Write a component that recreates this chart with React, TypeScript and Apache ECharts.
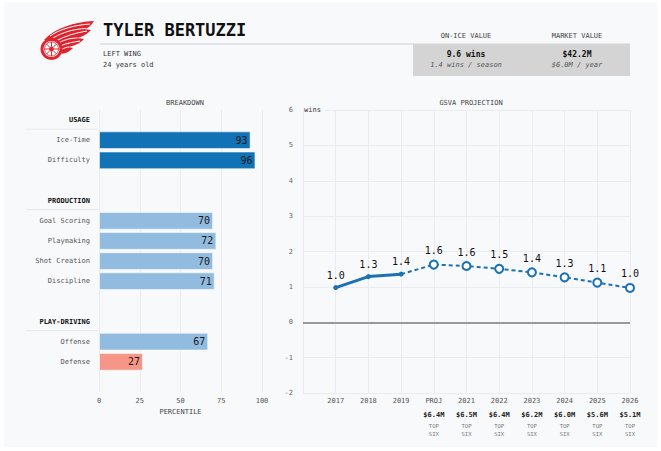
import React, { useEffect, useRef } from "react";
import * as echarts from "echarts";

// ---------- data ----------
const breakdownRows = [
  "USAGE", "Ice-Time", "Difficulty", "",
  "PRODUCTION", "Goal Scoring", "Playmaking", "Shot Creation", "Discipline", "",
  "PLAY-DRIVING", "Offense", "Defense", "",
];
const headerRows = ["USAGE", "PRODUCTION", "PLAY-DRIVING"];
const percentiles = [null, 93, 96, null, null, 70, 72, 70, 71, null, null, 67, 27, null];
const barColors = [
  null, "#1272b6", "#1272b6", null,
  null, "#91bbdf", "#91bbdf", "#91bbdf", "#91bbdf", null,
  null, "#91bbdf", "#f69689", null,
];
const seasons = ["2017", "2018", "2019", "PROJ", "2021", "2022", "2023", "2024", "2025", "2026"];
const pastGsva = [0.98, 1.29, 1.36];
const projGsva = [1.63, 1.59, 1.51, 1.41, 1.27, 1.12, 0.97];
const contracts = ["$6.4M", "$6.5M", "$6.4M", "$6.2M", "$6.0M", "$5.6M", "$5.1M"];
const roles = ["TOP SIX", "TOP SIX", "TOP SIX", "TOP SIX", "TOP SIX", "TOP SIX", "TOP SIX"];

const FONT = '"DejaVu Sans Mono", monospace';
const BLUE = "#1b72b2";
const RED = "#e0242f";

const wingPath =
  "M44 40 C55 28 74 22 94 21 C91 26 88 28 85 29 L91 30 C86 35 82 37 77 38 L84 39 C79 44 74 46 68 47 L73 48 C69 52 66 53 62 54 C61 47 54 41 44 40 Z";

export default function App() {
  const ref = useRef<HTMLDivElement>(null);

  useEffect(() => {
    if (!ref.current) return;
    try {
      echarts.graphic.registerShape("wing", echarts.graphic.extendPath(wingPath, {}) as any);
    } catch (e) {}
    const chart = echarts.init(ref.current, null, { renderer: "svg" });

    const barTop = 110;
    const barH = 282;
    const rowH = barH / breakdownRows.length;

    const xCats = ["", ...seasons];
    const solidData = xCats.map((_, i) => (i >= 1 && i <= pastGsva.length ? pastGsva[i - 1] : null));
    const projStart = pastGsva.length; // index of 2019 in xCats
    const dashedData: any[] = xCats.map((_, i) => {
      if (i === projStart) return { value: pastGsva[pastGsva.length - 1], symbol: "none", label: { show: false } };
      if (i > projStart) return projGsva[i - projStart - 1];
      return null;
    });

    const headerLines = breakdownRows
      .map((r, i) => (headerRows.includes(r) ? i : -1))
      .filter((i) => i >= 0)
      .map((i) => ({
        type: "line",
        silent: true,
        shape: { x1: 27, y1: barTop + (i + 1) * rowH - 1, x2: 98, y2: barTop + (i + 1) * rowH - 1 },
        style: { stroke: "#e6e8eb", lineWidth: 1 },
      }));

    const cx = 51.5, cy = 49;
    const spokes = [0, 45, 90, 135, 180, 225, 270, 315].map((a) => {
      const r = (a * Math.PI) / 180;
      return {
        type: "line",
        silent: true,
        shape: { x1: cx + Math.cos(r) * 2.5, y1: cy + Math.sin(r) * 2.5, x2: cx + Math.cos(r) * 7, y2: cy + Math.sin(r) * 7 },
        style: { stroke: RED, lineWidth: 1 },
      };
    });
    const stripes = [
      { x1: 50, y1: 36, cpx1: 60, cpy1: 29, cpx2: 75, cpy2: 25, x2: 90, y2: 24 },
      { x1: 53, y1: 38, cpx1: 63, cpy1: 32, cpx2: 74, cpy2: 29, x2: 86, y2: 28.5 },
      { x1: 56, y1: 41, cpx1: 65, cpy1: 36, cpx2: 75, cpy2: 33, x2: 87, y2: 31 },
      { x1: 58, y1: 43, cpx1: 66, cpy1: 39, cpx2: 72, cpy2: 38, x2: 77.5, y2: 38 },
      { x1: 60, y1: 46, cpx1: 67, cpy1: 43, cpx2: 74, cpy2: 42, x2: 80, y2: 41 },
      { x1: 62, y1: 49, cpx1: 65, cpy1: 48, cpx2: 67, cpy2: 47, x2: 69, y2: 47 },
    ].map((s) => ({
      type: "bezierCurve",
      silent: true,
      shape: s,
      style: { stroke: "#fff", lineWidth: 1, fill: null },
    }));

    const option: any = {
      animation: false,
      backgroundColor: "transparent",
      textStyle: { fontFamily: FONT },
      title: [
        {
          text: "BREAKDOWN",
          left: 180,
          top: 94,
          textAlign: "center",
          textStyle: { fontSize: 7, fontWeight: "normal", color: "#444", fontFamily: FONT },
        },
        {
          text: "GSVA PROJECTION",
          left: 466,
          top: 94,
          textAlign: "center",
          textStyle: { fontSize: 7, fontWeight: "normal", color: "#444", fontFamily: FONT },
        },
      ],
      grid: [
        { left: 99, top: barTop, width: 163, height: barH, containLabel: false },
        { left: 303, top: 110, width: 327, height: 283, containLabel: false },
      ],
      xAxis: [
        {
          type: "value",
          gridIndex: 0,
          min: 0,
          max: 100,
          interval: 25,
          axisLine: { show: false },
          axisTick: { show: false },
          axisLabel: { fontSize: 7, color: "#555", margin: 5, fontFamily: FONT },
          splitLine: { show: true, lineStyle: { color: "#e9ebee", width: 1 } },
          name: "PERCENTILE",
          nameLocation: "middle",
          nameGap: 16,
          nameTextStyle: { fontSize: 7, color: "#444", fontFamily: FONT },
        },
        {
          type: "category",
          gridIndex: 1,
          data: xCats,
          boundaryGap: false,
          axisLine: { show: false },
          axisTick: { show: false },
          splitLine: { show: true, interval: 0, lineStyle: { color: "#eaecef", width: 1 } },
          axisLabel: {
            interval: 0,
            margin: 1,
            color: "#555",
            fontSize: 7,
            fontFamily: FONT,
            formatter: (v: string, idx: number) => {
              const k = idx - projStart - 1;
              if (k >= 0 && k < contracts.length) {
                const [a, b] = roles[k].split(" ");
                return `{y|${v}}\n{m|${contracts[k]}}\n{t|${a}}\n{t|${b}}`;
              }
              return `{y|${v}}`;
            },
            rich: {
              y: { fontSize: 7, color: "#555", lineHeight: 14, fontFamily: FONT },
              m: { fontSize: 7, color: "#222", fontWeight: "bold", lineHeight: 14, fontFamily: FONT },
              t: { fontSize: 5.5, color: "#777", lineHeight: 8, fontFamily: FONT },
            },
          },
        },
      ],
      yAxis: [
        {
          type: "category",
          gridIndex: 0,
          data: breakdownRows,
          inverse: true,
          axisLine: { show: false },
          axisTick: { show: false },
          splitLine: { show: false },
          axisLabel: {
            interval: 0,
            margin: 9,
            fontSize: 7,
            color: "#555",
            fontFamily: FONT,
            formatter: (v: string) => (headerRows.includes(v) ? `{h|${v}}` : v),
            rich: { h: { fontSize: 7, fontWeight: "bold", color: "#111", fontFamily: FONT } },
          },
        },
        {
          type: "value",
          gridIndex: 1,
          min: -2,
          max: 6,
          interval: 1,
          axisLine: { show: false },
          axisTick: { show: false },
          axisLabel: { fontSize: 7, color: "#666", margin: 10, fontFamily: FONT },
          splitLine: { show: true, lineStyle: { color: "#eaecef", width: 1 } },
        },
      ],
      series: [
        {
          type: "bar",
          xAxisIndex: 0,
          yAxisIndex: 0,
          barWidth: "88%",
          data: percentiles.map((v, i) =>
            v == null
              ? null
              : {
                  value: v,
                  itemStyle: { color: barColors[i], borderColor: "rgba(255,255,255,0.55)", borderWidth: 1 },
                }
          ),
          label: {
            show: true,
            position: "insideRight",
            distance: 3,
            fontSize: 10,
            color: "#1a1a1a",
            fontFamily: FONT,
          },
        },
        {
          type: "line",
          xAxisIndex: 1,
          yAxisIndex: 1,
          data: solidData,
          lineStyle: { color: BLUE, width: 3 },
          itemStyle: { color: BLUE },
          symbol: "circle",
          symbolSize: 5,
          showSymbol: true,
          label: {
            show: true,
            position: "top",
            distance: 5,
            fontSize: 10,
            color: "#111",
            fontFamily: FONT,
            formatter: (p: any) => Number(p.value).toFixed(1),
          },
          markLine: {
            silent: true,
            symbol: "none",
            label: { show: false },
            lineStyle: { color: "#9a9a9a", width: 2, type: "solid" },
            data: [{ yAxis: 0 }],
          },
          z: 3,
        },
        {
          type: "line",
          xAxisIndex: 1,
          yAxisIndex: 1,
          data: dashedData,
          lineStyle: { color: BLUE, width: 2, type: [4, 3] },
          itemStyle: { color: "#ffffff", borderColor: BLUE, borderWidth: 2 },
          symbol: "circle",
          symbolSize: 8,
          showSymbol: true,
          label: {
            show: true,
            position: "top",
            distance: 4,
            fontSize: 10,
            color: "#111",
            fontFamily: FONT,
            formatter: (p: any) => Number(p.value).toFixed(1),
          },
          z: 4,
        },
      ],
      graphic: [
        {
          type: "rect",
          silent: true,
          z: -10,
          shape: { x: 4, y: 2, width: 653, height: 445 },
          style: { fill: "#f8f9fb" },
        },
        // header underline
        {
          type: "line",
          silent: true,
          shape: { x1: 100, y1: 44, x2: 413, y2: 44 },
          style: { stroke: "#e2e4e7", lineWidth: 2 },
        },
        {
          type: "text",
          x: 103,
          y: 30,
          style: {
            text: "TYLER BERTUZZI",
            fontSize: 17,
            fontWeight: "bold",
            fontFamily: FONT,
            fill: "#111",
            verticalAlign: "middle",
          },
        },
        {
          type: "text",
          x: 103,
          y: 54,
          style: { text: "LEFT WING", fontSize: 7, fontFamily: FONT, fill: "#333", verticalAlign: "middle" },
        },
        {
          type: "text",
          x: 103,
          y: 65,
          style: { text: "24 years old", fontSize: 7, fontFamily: FONT, fill: "#333", verticalAlign: "middle" },
        },
        // value box
        {
          type: "rect",
          silent: true,
          shape: { x: 413, y: 43.5, width: 217, height: 32.5 },
          style: { fill: "#d4d4d4" },
        },
        {
          type: "text",
          x: 466,
          y: 36,
          style: { text: "ON-ICE VALUE", fontSize: 7, fontFamily: FONT, fill: "#444", align: "center", verticalAlign: "middle" },
        },
        {
          type: "text",
          x: 577,
          y: 36,
          style: { text: "MARKET VALUE", fontSize: 7, fontFamily: FONT, fill: "#444", align: "center", verticalAlign: "middle" },
        },
        {
          type: "text",
          x: 466,
          y: 54.5,
          style: { text: "9.6 wins", fontSize: 8, fontWeight: "bold", fontFamily: FONT, fill: "#111", align: "center", verticalAlign: "middle" },
        },
        {
          type: "text",
          x: 577,
          y: 54.5,
          style: { text: "$42.2M", fontSize: 8, fontWeight: "bold", fontFamily: FONT, fill: "#111", align: "center", verticalAlign: "middle" },
        },
        {
          type: "text",
          x: 466,
          y: 64.5,
          style: { text: "1.4 wins / season", fontSize: 7, fontStyle: "italic", fontFamily: FONT, fill: "#555", align: "center", verticalAlign: "middle" },
        },
        {
          type: "text",
          x: 577,
          y: 64.5,
          style: { text: "$6.0M / year", fontSize: 7, fontStyle: "italic", fontFamily: FONT, fill: "#555", align: "center", verticalAlign: "middle" },
        },
        // "wins" unit label
        {
          type: "text",
          x: 304,
          y: 110,
          z: 5,
          style: {
            text: "wins",
            fontSize: 7,
            fontFamily: FONT,
            fill: "#333",
            verticalAlign: "middle",
            backgroundColor: "#f8f9fb",
            padding: [1, 4, 1, 0],
          },
        },
        ...headerLines,
        // logo
        { type: "wing", silent: true, x: 0, y: 0, style: { fill: RED } },
        ...stripes,
        { type: "circle", silent: true, shape: { cx, cy, r: 11 }, style: { fill: RED } },
        { type: "circle", silent: true, shape: { cx, cy, r: 8 }, style: { fill: "#fff" } },
        { type: "circle", silent: true, shape: { cx, cy, r: 7 }, style: { fill: "#fff", stroke: RED, lineWidth: 0.8 } },
        ...spokes,
        { type: "circle", silent: true, shape: { cx, cy, r: 2.5 }, style: { fill: RED } },
      ],
    };

    chart.setOption(option);
    return () => chart.dispose();
  }, []);

  return (
    <div style={{ position: "fixed", left: 0, top: 0, width: 661, height: 451, background: "#ffffff" }}>
      <div ref={ref} style={{ width: 661, height: 451 }} />
    </div>
  );
}
